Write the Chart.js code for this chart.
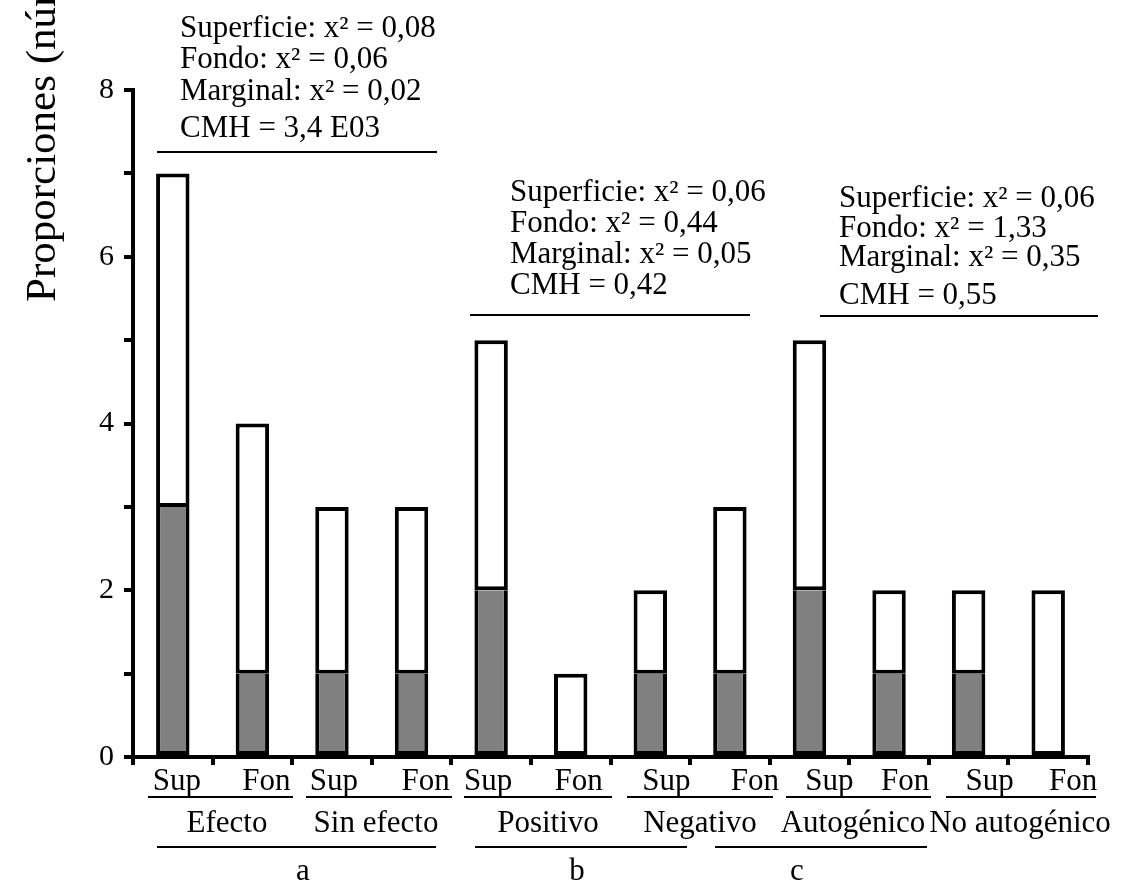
<!DOCTYPE html>
<html>
<head>
<meta charset="utf-8">
<script src="https://cdn.jsdelivr.net/npm/chart.js@4"></script>
<style>
  html, body { margin: 0; padding: 0; background: #fff; }
  canvas { display: block; }
</style>
</head>
<body>
<canvas id="chart" width="1128" height="884"></canvas>
<script>
// categorias (Sup = superficie, Fon = fondo)
const categorias = ['Sup', 'Fon', 'Sup', 'Fon', 'Sup', 'Fon', 'Sup', 'Fon', 'Sup', 'Fon', 'Sup', 'Fon'];
const subgrupos = ['Efecto', 'Sin efecto', 'Positivo', 'Negativo', 'Autogénico', 'No autogénico'];
const grupos = ['a', 'b', 'c'];

// parte oscura y total de cada barra
const oscuro = [3, 1, 1, 1, 2, 0, 1, 1, 2, 1, 1, 0];
const total = [7, 4, 3, 3, 5, 1, 2, 3, 5, 2, 2, 2];
const blanco = total.map((t, i) => t - oscuro[i]);

const yTicks = [0, 2, 4, 6, 8];

const statsA = ['Superficie: x² = 0,08', 'Fondo: x² = 0,06', 'Marginal: x² = 0,02', 'CMH = 3,4 E03'];
const statsB = ['Superficie: x² = 0,06', 'Fondo: x² = 0,44', 'Marginal: x² = 0,05', 'CMH = 0,42'];
const statsC = ['Superficie: x² = 0,06', 'Fondo: x² = 1,33', 'Marginal: x² = 0,35', 'CMH = 0,55'];

const SERIF = '"Liberation Serif", "DejaVu Serif", serif';

// textos y rayas a mano
const textosPlugin = {
    id: 'textos',
    afterDraw(chart) {
        const ctx = chart.ctx;
        const x = chart.scales.x;
        ctx.save();
        ctx.fillStyle = '#000';
        ctx.strokeStyle = '#000';

        // titulo del eje y
        ctx.save();
        ctx.translate(55, 302);
        ctx.rotate(-Math.PI / 2);
        ctx.font = '43px ' + SERIF;
        ctx.textAlign = 'left';
        ctx.textBaseline = 'alphabetic';
        ctx.fillText('Proporciones (número)', 0, 0);
        ctx.restore();

        // bloques de estadisticos
        const bloques = [
            { lines: statsA, x: 180, ys: [37, 68, 100, 137], lineY: 152, x0: 157, x1: 437 },
            { lines: statsB, x: 510, ys: [201, 232, 263, 294], lineY: 315, x0: 470, x1: 750 },
            { lines: statsC, x: 839, ys: [207, 237, 266, 304], lineY: 316, x0: 820, x1: 1098 }
        ];
        ctx.font = '31px ' + SERIF;
        ctx.textAlign = 'left';
        ctx.lineWidth = 2;
        bloques.forEach(b => {
            b.lines.forEach((t, i) => ctx.fillText(t, b.x, b.ys[i]));
            ctx.beginPath();
            ctx.moveTo(b.x0, b.lineY);
            ctx.lineTo(b.x1, b.lineY);
            ctx.stroke();
        });

        // etiquetas Sup / Fon
        const shift = [4, 14, 2, 14, -3, 8, 16, 25, 20, 16, 21, 25];
        ctx.font = '31px ' + SERIF;
        ctx.textAlign = 'center';
        categorias.forEach((c, i) => {
            ctx.fillText(c, x.getPixelForValue(i) + shift[i], 790);
        });

        // subgrupos
        const subX = [227, 376, 548, 700, 853, 1020];
        const subLine = [[148, 293], [306, 452], [464, 612], [627, 773], [786, 931], [946, 1096]];
        subgrupos.forEach((s, i) => {
            ctx.beginPath();
            ctx.moveTo(subLine[i][0], 797);
            ctx.lineTo(subLine[i][1], 797);
            ctx.stroke();
            ctx.fillText(s, subX[i], 832);
        });

        // grupos a b c
        const grX = [303, 577, 797];
        const grLine = [[157, 436], [475, 687], [715, 927]];
        grupos.forEach((g, i) => {
            ctx.beginPath();
            ctx.moveTo(grLine[i][0], 847);
            ctx.lineTo(grLine[i][1], 847);
            ctx.stroke();
            ctx.fillText(g, grX[i], 880);
        });
        ctx.restore();
    }
};

const ctx = document.getElementById('chart').getContext('2d');
new Chart(ctx, {
    type: 'bar',
    data: {
        labels: categorias,
        datasets: [{
            label: 'oscuro',
            data: oscuro,
            backgroundColor: '#808080',
            borderColor: '#000',
            borderWidth: 4,
            borderSkipped: 'top',
            categoryPercentage: 1,
            barPercentage: 0.42
        }, {
            label: 'blanco',
            data: blanco,
            backgroundColor: '#fff',
            borderColor: '#000',
            borderWidth: 4,
            borderSkipped: false,
            categoryPercentage: 1,
            barPercentage: 0.42
        }]
    },
    options: {
        responsive: false,
        animation: false,
        layout: { padding: { left: 0, top: 90, right: 40, bottom: 0 } },
        plugins: {
            legend: { display: false },
            tooltip: { enabled: false }
        },
        scales: {
            x: {
                stacked: true,
                grid: { drawOnChartArea: false, offset: true, tickLength: 8, lineWidth: 4, color: '#000' },
                border: { display: true, width: 4, color: '#000' },
                ticks: { display: false },
                afterFit(scale) { scale.height = 127; }
            },
            y: {
                stacked: true,
                min: 0,
                max: 8,
                grid: { drawOnChartArea: false, tickLength: 9, lineWidth: 4, color: '#000' },
                border: { display: true, width: 4, color: '#000' },
                ticks: {
                    stepSize: 1,
                    padding: 10,
                    color: '#000',
                    font: { family: SERIF, size: 30 },
                    callback: v => yTicks.includes(v) ? v : ''
                },
                afterFit(scale) { scale.width = 133; }
            }
        }
    },
    plugins: [textosPlugin]
});
</script>
</body>
</html>
